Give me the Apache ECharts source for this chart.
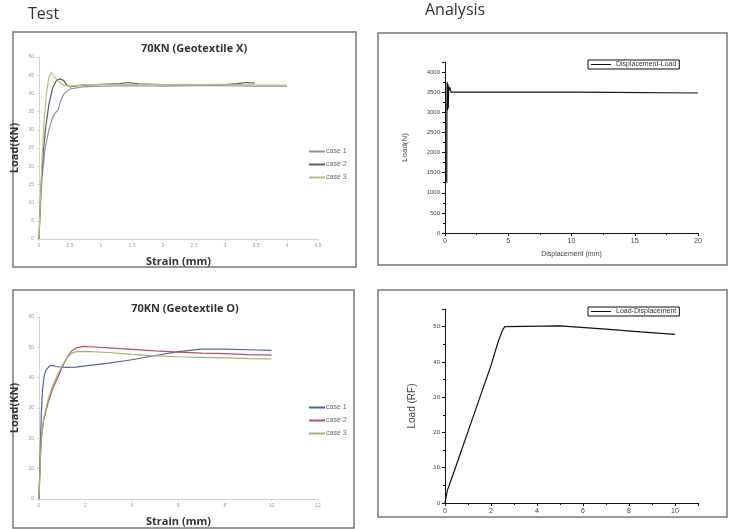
<!DOCTYPE html>
<html>
<head>
<meta charset="utf-8">
<script src="https://cdn.jsdelivr.net/npm/echarts@6/dist/echarts.min.js"></script>
<style>
  html, body { margin: 0; padding: 0; background: #fff; }
  #main { width: 729px; height: 529px; }
</style>
</head>
<body>
<div id="main"></div>
<script>
// Test, Geotextile X : [strain mm, load kN]
let testX_case1 = [[0,0],[0.02,8],[0.05,17],[0.1,25],[0.16,30],[0.22,33.5],[0.26,34.6],[0.29,34.2],[0.31,35.5],[0.35,38],[0.4,39.8],[0.5,41.2],[0.7,41.8],[1,42],[1.5,42.1],[2,42],[2.5,42.1],[3,42.1],[3.5,42],[4,42]];
let testX_case2 = [[0,0],[0.03,14],[0.07,24],[0.11,31],[0.16,37],[0.22,41.5],[0.28,43.5],[0.34,44],[0.4,43.5],[0.45,42.3],[0.5,41.8],[0.7,42.3],[1,42.5],[1.3,42.7],[1.45,43],[1.6,42.6],[2,42.4],[2.5,42.4],[3,42.4],[3.2,42.7],[3.35,43],[3.48,42.8]];
let testX_case3 = [[0,0],[0.02,10],[0.05,22],[0.08,32],[0.12,40],[0.16,44.5],[0.2,45.8],[0.25,44.5],[0.32,43.2],[0.4,42.2],[0.5,42],[0.8,42.4],[1.2,42.5],[2,42.4],[3,42.5],[3.5,42.3],[4,42.3]];

// Test, Geotextile O : [strain mm, load kN]
let testO_case1 = [[0,0],[0.05,15],[0.1,28],[0.15,36],[0.22,40.5],[0.3,42.5],[0.45,43.8],[0.6,44],[0.8,43.6],[1.2,43.4],[1.6,43.5],[2,43.9],[3,44.8],[4,45.9],[5,47.3],[6,48.6],[7,49.4],[8,49.4],[9,49.2],[10,49]];
let testO_case2 = [[0,0],[0.05,12],[0.1,20],[0.2,26],[0.4,32],[0.6,36.5],[0.8,40],[1,43.5],[1.2,46.5],[1.4,48.8],[1.6,49.8],[1.9,50.3],[2.2,50.2],[3,49.8],[4,49.3],[5,48.8],[6,48.4],[7,48.1],[8,47.9],[9,47.6],[10,47.4]];
let testO_case3 = [[0,0],[0.05,12],[0.1,20],[0.2,26.5],[0.4,33],[0.6,37.5],[0.8,41],[1,44],[1.2,46.5],[1.4,48],[1.6,48.6],[2,48.7],[3,48.3],[4,47.7],[5,47.2],[6,46.9],[7,46.7],[8,46.5],[9,46.3],[10,46.2]];

// Analysis : [displacement mm, load N] and [displacement mm, load RF]
let analysisX = [[0.14,1250],[0.15,3050],[0.17,3750],[0.2,3050],[0.23,3700],[0.26,3100],[0.29,3650],[0.33,3550],[0.38,3620],[0.48,3500],[10.5,3500],[10.6,3480],[20,3480]];
let analysisO = [[0,0],[0.1,3.5],[0.4,9],[0.8,16.5],[1.2,24],[1.6,31.5],[2,39],[2.3,45.5],[2.5,49],[2.6,50],[5,50.2],[7,49.3],[8.5,48.5],[10,47.8]];

let caseNames = ['case 1', 'case 2', 'case 3'];

let chart = echarts.init(document.getElementById('main'));

function excelX(idx, min, max, interval) {
  return {
    type: 'value', gridIndex: idx, min: min, max: max, interval: interval,
    name: 'Strain (mm)', nameLocation: 'middle', nameGap: 17,
    nameTextStyle: { fontSize: 11, fontWeight: 'bold', color: '#333', fontFamily: 'Open Sans' },
    axisLine: { lineStyle: { color: '#d4d4d4' } },
    axisTick: { show: true, length: 2, lineStyle: { color: '#d4d4d4' } },
    axisLabel: { fontSize: 5, color: '#999', margin: 4 },
    splitLine: { show: false }
  };
}
function excelY(idx, max, interval) {
  return {
    type: 'value', gridIndex: idx, min: 0, max: max, interval: interval,
    name: 'Load(KN)', nameLocation: 'middle', nameGap: 19,
    nameTextStyle: { fontSize: 11, fontWeight: 'bold', color: '#333', fontFamily: 'Open Sans' },
    axisLine: { show: true, lineStyle: { color: '#d4d4d4' } },
    axisTick: { show: true, length: 2, lineStyle: { color: '#d4d4d4' } },
    axisLabel: { fontSize: 5, color: '#999', margin: 5 },
    splitLine: { show: false }
  };
}
function originX(idx, max, interval, name, gap) {
  return {
    type: 'value', gridIndex: idx, min: 0, max: max, interval: interval,
    name: name, nameLocation: 'middle', nameGap: gap,
    nameTextStyle: { fontSize: 7, color: '#444', fontFamily: 'Liberation Sans' },
    axisLine: { lineStyle: { color: '#111', width: 1 } },
    axisTick: { show: true, length: 3, lineStyle: { color: '#111' } },
    minorTick: { show: true, splitNumber: 2, length: 2, lineStyle: { color: '#111' } },
    axisLabel: { fontSize: 7, color: '#444', margin: 5, showMaxLabel: max % interval === 0,
      formatter: function(v) { return String(v); } },
    splitLine: { show: false }, minorSplitLine: { show: false }
  };
}
function originY(idx, max, interval, name, gap, fs) {
  return {
    type: 'value', gridIndex: idx, min: 0, max: max, interval: interval,
    name: name, nameLocation: 'middle', nameGap: gap,
    nameTextStyle: { fontSize: fs, color: '#444', fontFamily: 'Liberation Sans' },
    axisLine: { show: true, lineStyle: { color: '#111', width: 1 } },
    axisTick: { show: true, length: 3, lineStyle: { color: '#111' } },
    minorTick: { show: true, splitNumber: 2, length: 2, lineStyle: { color: '#111' } },
    axisLabel: { fontSize: 6, color: '#444', margin: 5, showMaxLabel: false,
      formatter: function(v) { return String(v); } },
    splitLine: { show: false }, minorSplitLine: { show: false }
  };
}
function line(name, data, idx, color, width) {
  return {
    name: name, type: 'line', xAxisIndex: idx, yAxisIndex: idx, data: data,
    showSymbol: false, smooth: false, lineStyle: { color: color, width: width || 1.2 },
    itemStyle: { color: color }, silent: true, animation: false
  };
}
function boxRect(x, y, w, h) {
  return { type: 'rect', shape: { x: x, y: y, width: w, height: h },
    style: { fill: 'none', stroke: '#777', lineWidth: 1.5 }, silent: true };
}
function caseLegend(names, top) {
  return {
    data: names, orient: 'vertical', left: 304, top: top, itemGap: 6,
    itemWidth: 16, itemHeight: 2, icon: 'rect',
    formatter: function(n) { return n.replace(/^[XO] /, ''); },
    textStyle: { fontSize: 7, color: '#666', padding: [0, 0, 0, -4] },
    selectedMode: false
  };
}
function boxLegend(name, top) {
  return {
    data: [name], left: 588, top: top, itemWidth: 20, itemHeight: 1, icon: 'rect',
    borderColor: '#111', borderWidth: 1, padding: [1, 3, 1, 3], borderRadius: 0,
    textStyle: { fontSize: 7, color: '#333', fontFamily: 'Liberation Sans' },
    selectedMode: false
  };
}

chart.setOption({
  animation: false,
  title: [
    { text: '70KN (Geotextile X)', left: 189, top: 38, textAlign: 'center',
      textStyle: { fontSize: 11, fontWeight: 'bold', color: '#333', fontFamily: 'Open Sans' } },
    { text: '70KN (Geotextile O)', left: 180, top: 298, textAlign: 'center',
      textStyle: { fontSize: 11, fontWeight: 'bold', color: '#333', fontFamily: 'Open Sans' } }
  ],
  graphic: [
    { type: 'text', left: 28, top: 6, style: { text: 'Test', fontSize: 16, fill: '#333', fontFamily: 'Open Sans' } },
    { type: 'text', left: 425, top: 2, style: { text: 'Analysis', fontSize: 16, fill: '#333', fontFamily: 'Open Sans' } },
    boxRect(13, 32, 343, 235),
    boxRect(378, 33, 349, 232),
    boxRect(13, 290, 341, 238),
    boxRect(378, 290, 349, 227)
  ],
  legend: [
    caseLegend(['X case 1', 'X case 2', 'X case 3'], 143),
    caseLegend(['O case 1', 'O case 2', 'O case 3'], 399),
    boxLegend('Displacement-Load', 60),
    boxLegend('Load-Displacement', 307)
  ],
  grid: [
    { left: 39, top: 57, width: 279, height: 182 },
    { left: 445, top: 62, width: 253, height: 171 },
    { left: 39, top: 317, width: 279, height: 182 },
    { left: 445, top: 309, width: 253, height: 194 }
  ],
  xAxis: [
    excelX(0, 0, 4.5, 0.5),
    originX(1, 20, 5, 'Displacement (mm)', 18),
    excelX(2, 0, 12, 2),
    originX(3, 11, 2, '', 20)
  ],
  yAxis: [
    excelY(0, 50, 5),
    originY(1, 4250, 500, 'Load(N)', 36, 8),
    excelY(2, 60, 10),
    originY(3, 55, 10, 'Load (RF)', 28, 10)
  ],
  series: [
    line('X ' + caseNames[0], testX_case1, 0, '#8b93ad'),
    line('X ' + caseNames[1], testX_case2, 0, '#5c5c66'),
    line('X ' + caseNames[2], testX_case3, 0, '#b9c07a'),
    line('Displacement-Load', analysisX, 1, '#111', 1.2),
    line('O ' + caseNames[0], testO_case1, 2, '#4d63a8'),
    line('O ' + caseNames[1], testO_case2, 2, '#b84f63'),
    line('O ' + caseNames[2], testO_case3, 2, '#a5b46a'),
    line('Load-Displacement', analysisO, 3, '#111', 1.2)
  ]
});
</script>
</body>
</html>
